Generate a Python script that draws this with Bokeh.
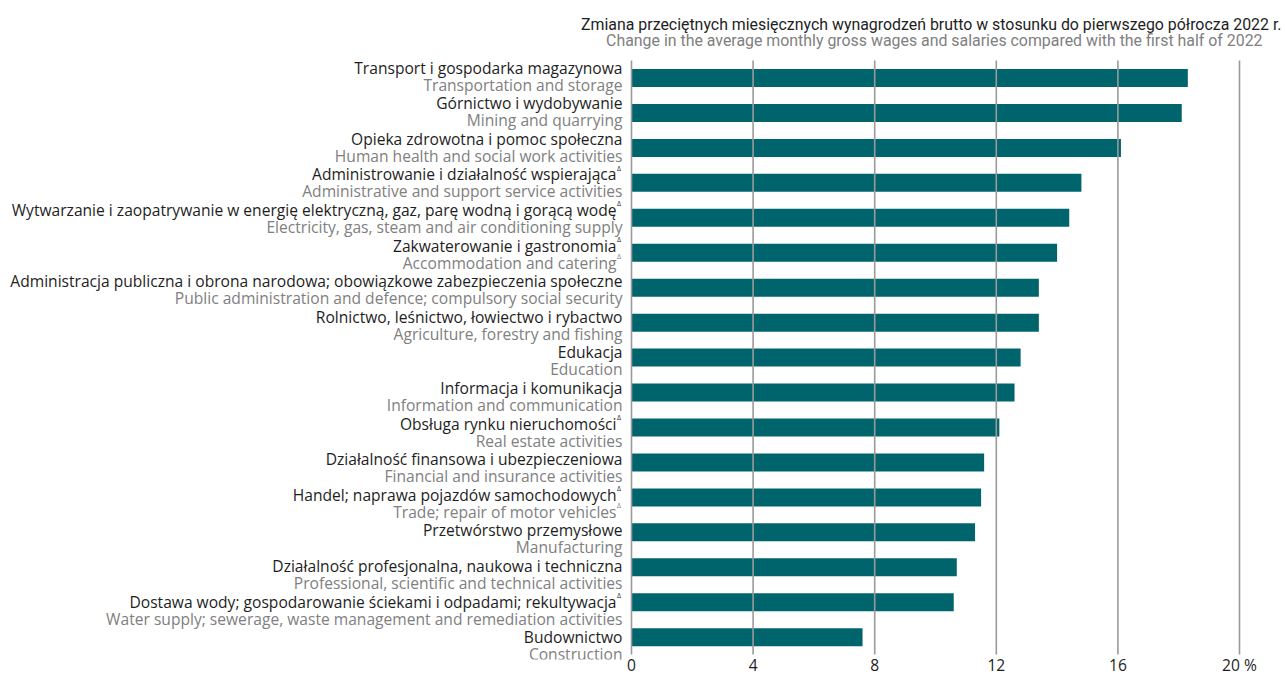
from bokeh.plotting import figure
from bokeh.models import Range1d, FixedTicker, ColumnDataSource
from bokeh.core.properties import value
from bokeh.embed import file_html
from bokeh.resources import INLINE

labels_pl = [
    "Transport i gospodarka magazynowa",
    "Górnictwo i wydobywanie",
    "Opieka zdrowotna i pomoc społeczna",
    "Administrowanie i działalność wspierająca",
    "Wytwarzanie i zaopatrywanie w energię elektryczną, gaz, parę wodną i gorącą wodę",
    "Zakwaterowanie i gastronomia",
    "Administracja publiczna i obrona narodowa; obowiązkowe zabezpieczenia społeczne",
    "Rolnictwo, leśnictwo, łowiectwo i rybactwo",
    "Edukacja",
    "Informacja i komunikacja",
    "Obsługa rynku nieruchomości",
    "Działalność finansowa i ubezpieczeniowa",
    "Handel; naprawa pojazdów samochodowych",
    "Przetwórstwo przemysłowe",
    "Działalność profesjonalna, naukowa i techniczna",
    "Dostawa wody; gospodarowanie ściekami i odpadami; rekultywacja",
    "Budownictwo",
]
labels_en = [
    "Transportation and storage",
    "Mining and quarrying",
    "Human health and social work activities",
    "Administrative and support service activities",
    "Electricity, gas, steam and air conditioning supply",
    "Accommodation and catering",
    "Public administration and defence; compulsory social security",
    "Agriculture, forestry and fishing",
    "Education",
    "Information and communication",
    "Real estate activities",
    "Financial and insurance activities",
    "Trade; repair of motor vehicles",
    "Manufacturing",
    "Professional, scientific and technical activities",
    "Water supply; sewerage, waste management and remediation activities",
    "Construction",
]
# Δ markers: (polish line, english line)
mark_pl = [0, 0, 0, 1, 1, 1, 0, 0, 0, 0, 1, 0, 1, 0, 0, 1, 0]
mark_en = [0, 0, 0, 0, 0, 1, 0, 0, 0, 0, 0, 0, 1, 0, 0, 0, 0]
values = [18.3, 18.1, 16.1, 14.8, 14.4, 14.0, 13.4, 13.4, 12.8, 12.6, 12.1,
          11.6, 11.5, 11.3, 10.7, 10.6, 7.6]
ticks = [0, 4, 8, 12, 16, 20]
tick_labels = {20: "20 %"}
title_pl = "Zmiana przeciętnych miesięcznych wynagrodzeń brutto w stosunku do pierwszego półrocza 2022 r."
title_en = "Change in the average monthly gross wages and salaries compared with the first half of 2022"

# layout (pixel-based y coordinates, x in percent)
W, H = 1285, 678
FRAME_H = 659
X0_PX = 631.0
SCALE = 30.4
BAR_TOP_C, BAR_STEP = 77.5, 34.95
LAB_TOP, LAB_STEP = 67.0, 35.6

BLACK = "#1e1e1e"
GREY = "#808080"
TEAL = "#00646d"
GRID = "#9a9a9a"
FONT = "Open Sans"
TFONT = "Roboto"

def px2x(px):
    return (px - X0_PX) / SCALE

p = figure(width=W, height=H, output_backend="svg", toolbar_location=None,
           x_range=Range1d(px2x(0), px2x(W)), y_range=Range1d(FRAME_H, 0),
           y_axis_location=None, min_border=0, min_border_left=0,
           min_border_right=0, min_border_top=0, min_border_bottom=0)
p.outline_line_color = None
p.xgrid.grid_line_color = None
p.ygrid.grid_line_color = None

n = len(values)
bar_y = [BAR_TOP_C + BAR_STEP * i for i in range(n)]
p.hbar(y=bar_y, left=0, right=values, height=18, fill_color=TEAL,
       line_color=None)

# grid lines on top of bars
p.segment(x0=ticks, x1=ticks, y0=[60] * len(ticks), y1=[654] * len(ticks),
          line_color=GRID, line_width=1.6)

# category labels
right = px2x(622)
mark_w = 6.0 / SCALE
pl_src = dict(x=[], y=[], t=[])
en_src = dict(x=[], y=[], t=[])
mk_pl = dict(x=[], y=[], t=[])
mk_en = dict(x=[], y=[], t=[])
for i in range(n):
    yb = LAB_TOP + LAB_STEP * i
    pl_src["x"].append(right - (mark_w if mark_pl[i] else 0))
    pl_src["y"].append(yb)
    pl_src["t"].append(labels_pl[i])
    en_src["x"].append(right - (mark_w if mark_en[i] else 0))
    en_src["y"].append(yb + 17)
    en_src["t"].append(labels_en[i])
    if mark_pl[i]:
        mk_pl["x"].append(right - mark_w + 0.5 / SCALE)
        mk_pl["y"].append(yb - 6)
        mk_pl["t"].append("Δ")
    if mark_en[i]:
        mk_en["x"].append(right - mark_w + 0.5 / SCALE)
        mk_en["y"].append(yb + 17 - 6)
        mk_en["t"].append("Δ")

p.text(x="x", y="y", text="t", source=ColumnDataSource(pl_src),
       text_align="right", text_baseline="alphabetic", text_color=BLACK,
       text_font=value(FONT), text_font_size="15.6px")
p.text(x="x", y="y", text="t", source=ColumnDataSource(en_src),
       text_align="right", text_baseline="alphabetic", text_color=GREY,
       text_font=value(FONT), text_font_size="15.6px")
p.text(x="x", y="y", text="t", source=ColumnDataSource(mk_pl),
       text_align="left", text_baseline="alphabetic", text_color=BLACK,
       text_font=value(FONT), text_font_size="7px")
p.text(x="x", y="y", text="t", source=ColumnDataSource(mk_en),
       text_align="left", text_baseline="alphabetic", text_color=GREY,
       text_font=value(FONT), text_font_size="7px")

# title
p.text(x=[px2x(1281)], y=[24], text=[title_pl], text_align="right",
       text_baseline="alphabetic", text_color=BLACK,
       text_font=value(TFONT), text_font_size="15.9px")
p.text(x=[px2x(1262)], y=[40], text=[title_en], text_align="right",
       text_baseline="alphabetic", text_color=GREY,
       text_font=value(TFONT), text_font_size="15.9px")

ax = p.xaxis[0]
ax.ticker = FixedTicker(ticks=ticks)
ax.major_label_overrides = tick_labels
ax.axis_line_color = None
ax.major_tick_line_color = None
ax.minor_tick_line_color = None
ax.major_tick_out = 0
ax.major_tick_in = 0
ax.major_label_standoff = -6
ax.major_label_text_font = FONT
ax.major_label_text_font_size = "15.6px"
ax.major_label_text_color = BLACK

open("out.html", "w").write(file_html(p, INLINE))
